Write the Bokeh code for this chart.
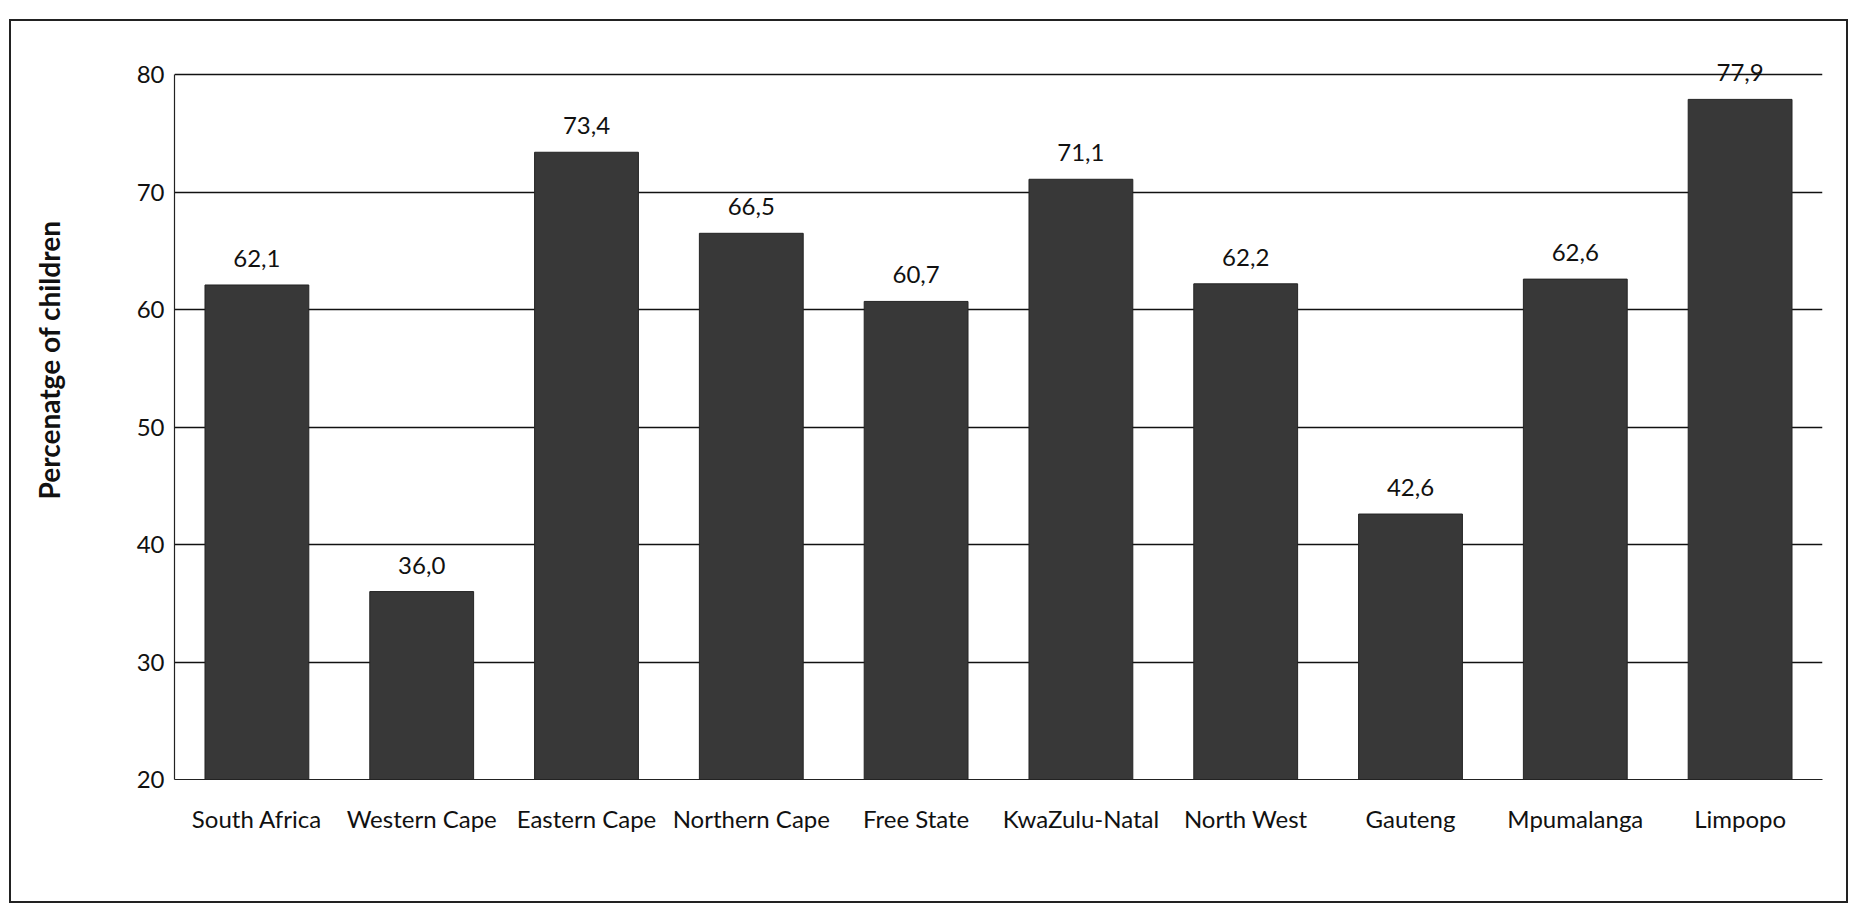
from bokeh.plotting import figure
from bokeh.models import ColumnDataSource, FixedTicker, LabelSet, Title, LinearAxis
from bokeh.core.properties import value
from bokeh.embed import file_html
from bokeh.resources import INLINE

categories = ["South Africa", "Western Cape", "Eastern Cape", "Northern Cape", "Free State",
              "KwaZulu-Natal", "North West", "Gauteng", "Mpumalanga", "Limpopo"]
values = [62.1, 36.0, 73.4, 66.5, 60.7, 71.1, 62.2, 42.6, 62.6, 77.9]
value_labels = ["62,1", "36,0", "73,4", "66,5", "60,7", "71,1", "62,2", "42,6", "62,6", "77,9"]
y_ticks = [20, 30, 40, 50, 60, 70, 80]
y_title = "Percenatge of children"

FONT = "Lato"

src = ColumnDataSource(dict(cat=categories, val=values, lab=value_labels))

p = figure(x_range=categories, y_range=(y_ticks[0], 83), width=1839, height=884,
           output_backend="svg", toolbar_location=None,
           min_border_left=163, min_border_right=28, min_border_top=18, min_border_bottom=126,
           margin=(19, 0, 0, 9),
           styles={"border": "2px solid #222222"})

p.vbar(x="cat", top="val", bottom=y_ticks[0], width=0.63, source=src,
       fill_color="#383838", line_color="#242424", line_width=1)

labels = LabelSet(x="cat", y="val", text="lab", source=src, text_align="center",
                  text_baseline="bottom", y_offset=18, text_font_size="24px",
                  text_color="#111111", text_font=value(FONT))
p.add_layout(labels)

p.outline_line_color = None
p.background_fill_color = "white"
p.border_fill_color = "white"

p.xgrid.grid_line_color = None
p.ygrid.grid_line_color = "#111111"
p.ygrid.grid_line_width = 1.6
p.yaxis.ticker = FixedTicker(ticks=y_ticks)
p.yaxis.bounds = (y_ticks[0], y_ticks[-1])

for ax in (p.xaxis, p.yaxis):
    ax.axis_line_color = "#222222"
    ax.axis_line_width = 1.2
    ax.major_tick_line_color = None
    ax.minor_tick_line_color = None
    ax.major_tick_out = 0
    ax.major_tick_in = 0
    ax.minor_tick_out = 0
    ax.major_label_text_font = FONT
    ax.major_label_text_font_size = "24px"
    ax.major_label_text_color = "#111111"

p.yaxis.major_label_standoff = 10
p.xaxis.major_label_standoff = 24

# invisible spacer between the tick labels and the y-axis title
spacer = LinearAxis(ticker=FixedTicker(ticks=[]), axis_line_color=None,
                    major_tick_line_color=None, minor_tick_line_color=None,
                    major_tick_out=0, minor_tick_out=0, major_tick_in=0,
                    major_label_standoff=0, major_label_text_font_size="1px",
                    axis_label=" ", axis_label_standoff=63,
                    axis_label_text_font_size="1px", axis_label_text_alpha=0)
p.add_layout(spacer, "left")

# y-axis title, placed off-centre (toward the top) as in the original
ytitle = Title(text=y_title, align="right", offset=181, standoff=0, vertical_align="middle",
               text_font=FONT, text_font_style="bold", text_font_size="28px",
               text_color="#111111")
p.add_layout(ytitle, "left")

open("out.html", "w").write(file_html(p, INLINE))
